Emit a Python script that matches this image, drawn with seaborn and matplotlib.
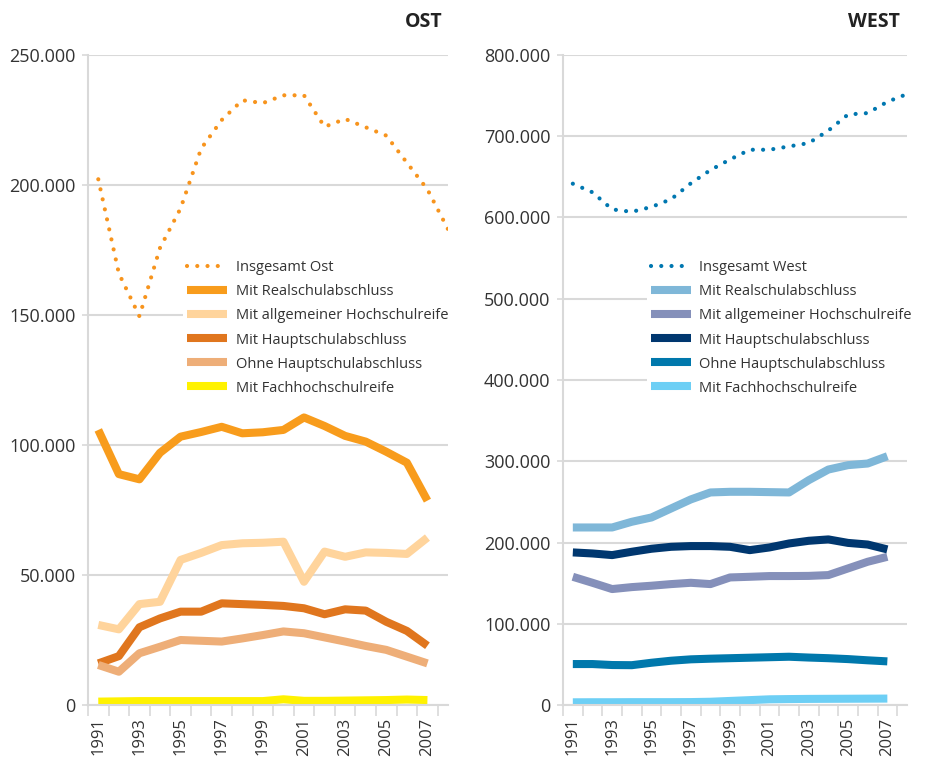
import numpy as np
import pandas as pd
import matplotlib
matplotlib.use("Agg")
import matplotlib.pyplot as plt
import seaborn as sns

# ------------------------------------------------------------------
# Daten (Werte in Tausend)
# ------------------------------------------------------------------
years = list(range(1991, 2008))
years_total = list(range(1991, 2009))

reihen = [
    "Mit Realschulabschluss",
    "Mit allgemeiner Hochschulreife",
    "Mit Hauptschulabschluss",
    "Ohne Hauptschulabschluss",
    "Mit Fachhochschulreife",
]

# OST
ost_total = [202.2, 166.0, 149.5, 175.8, 191.0, 214.0, 225.0, 232.6, 231.5,
             234.5, 234.5, 222.4, 225.4, 222.2, 219.0, 208.6, 198.3, 183.0]
ost_real = [105.8, 88.8, 86.8, 97.0, 103.2, 105.0, 107.0, 104.5, 104.9,
            105.8, 110.6, 107.3, 103.5, 101.3, 97.4, 93.2, 78.6]
ost_hoch = [30.8, 29.1, 38.8, 39.7, 55.8, 58.5, 61.5, 62.2, 62.4,
            62.8, 47.4, 59.0, 57.0, 58.7, 58.5, 58.1, 64.4]
ost_haupt = [16.0, 18.8, 29.9, 33.3, 35.9, 35.9, 39.1, 38.8, 38.5,
             38.1, 37.2, 34.9, 36.8, 36.3, 32.0, 28.5, 22.8]
ost_ohne = [15.4, 12.8, 19.9, 22.4, 25.0, 24.7, 24.4, 25.6, 26.9,
            28.3, 27.6, 26.0, 24.4, 22.7, 21.2, 18.6, 16.0]
ost_fach = [1.3, 1.4, 1.5, 1.5, 1.5, 1.5, 1.5, 1.5, 1.5,
            2.2, 1.6, 1.6, 1.7, 1.8, 1.9, 2.1, 1.9]

# WEST
west_total = [641.6, 631.0, 610.0, 607.0, 613.0, 622.5, 642.0, 658.4, 671.5,
              683.4, 683.4, 687.5, 691.6, 707.0, 726.8, 728.5, 742.4, 751.9]
west_real = [218.5, 218.5, 218.5, 225.5, 230.8, 241.9, 253.0, 261.6, 262.4,
             262.4, 262.0, 261.6, 276.7, 289.8, 295.2, 297.2, 306.2]
west_hoch = [157.8, 150.4, 142.7, 145.1, 146.8, 148.8, 150.4, 148.8, 157.0,
             157.8, 158.7, 158.7, 158.9, 159.9, 168.1, 176.3, 182.4]
west_haupt = [187.8, 186.5, 184.5, 188.6, 192.3, 194.7, 195.6, 195.6, 194.7,
              190.6, 193.9, 198.8, 202.1, 203.8, 199.5, 197.5, 191.5]
west_ohne = [50.4, 50.4, 49.2, 49.0, 52.0, 54.5, 56.2, 57.0, 57.6,
             58.2, 58.8, 59.4, 58.4, 57.6, 56.5, 55.0, 53.7]
west_fach = [3.3, 3.4, 3.4, 3.5, 3.5, 3.5, 3.6, 4.0, 5.0,
             6.0, 7.0, 7.3, 7.5, 7.6, 7.7, 7.8, 7.9]

ost_farben = ["#F89C1C", "#FFD49C", "#E0761E", "#EEAE78", "#FFF200"]
west_farben = ["#7FB7D8", "#8590BA", "#00376F", "#0078AC", "#6DCFF5"]
ost_total_farbe = "#F7941D"
west_total_farbe = "#0077B0"

# ------------------------------------------------------------------
# Style
# ------------------------------------------------------------------
sns.set_theme(style="white")
plt.rcParams["font.family"] = ["Open Sans", "DejaVu Sans"]
text_farbe = "#333333"
grid_farbe = "#D9D9D9"

fig = plt.figure(figsize=(9.28, 7.58), dpi=100)
ax_ost = fig.add_axes([88 / 928, 53 / 758, 360 / 928, 650 / 758])
ax_west = fig.add_axes([563 / 928, 53 / 758, 344 / 928, 650 / 758])


def long_df(serien):
    frames = []
    for name, werte in zip(reihen, serien):
        frames.append(pd.DataFrame({"Jahr": years, "Wert": np.array(werte) * 1000, "Reihe": name}))
    return pd.concat(frames, ignore_index=True)


def panel(ax, serien, farben, total, total_farbe, total_name, ymax, titel, titel_x, leg_px):
    df = long_df(serien)
    df_total = pd.DataFrame({"Jahr": years_total, "Wert": np.array(total) * 1000})

    # Gesamtlinie gepunktet, Teilgruppen als dicke Linien
    sns.lineplot(data=df_total, x="Jahr", y="Wert", ax=ax, color=total_farbe,
                 linewidth=3.0, linestyle=(0, (0.01, 2.45)), dash_capstyle="round",
                 label=total_name, legend=False)
    sns.lineplot(data=df, x="Jahr", y="Wert", hue="Reihe", hue_order=reihen,
                 palette=farben, ax=ax, linewidth=5.8, legend=False,
                 solid_capstyle="butt")

    ax.set_xlim(1990.5, 2008.0)
    ax.set_ylim(0, ymax)
    ax.set_xlabel("")
    ax.set_ylabel("")

    # Kategorie-Achse: Striche zwischen den Jahren, Beschriftung jedes zweite Jahr
    ax.set_xticks(np.arange(1990.5, 2008.0, 1.0))
    ax.set_xticklabels([])
    ax.set_xticks(years[::2], minor=True)
    ax.set_xticklabels([str(y) for y in years[::2]], minor=True, rotation=90)
    ax.tick_params(axis="x", which="major", length=8, width=1.2, color=grid_farbe, bottom=True)
    ax.tick_params(axis="x", which="minor", length=0, pad=9, labelsize=12, labelcolor=text_farbe)
    ax.tick_params(axis="y", length=4, width=1.2, color=grid_farbe, left=True,
                   labelsize=13, labelcolor=text_farbe, pad=5)
    ax.yaxis.set_major_formatter(plt.FuncFormatter(lambda v, p: f"{int(v):,}".replace(",", ".")))

    ax.yaxis.grid(True, color=grid_farbe, linewidth=1.5)
    ax.xaxis.grid(False)
    ax.set_axisbelow(True)
    for s in ["top", "right"]:
        ax.spines[s].set_visible(False)
    for s in ["left", "bottom"]:
        ax.spines[s].set_color(grid_farbe)
        ax.spines[s].set_linewidth(1.5)

    handles = ax.get_lines()[:1 + len(reihen)]
    labels = [total_name] + reihen
    leg = ax.legend(handles, labels, loc="upper left",
                    bbox_to_anchor=(leg_px / 928, 1 - 256 / 758),
                    bbox_transform=fig.transFigure,
                    frameon=True, facecolor="white", edgecolor="none", framealpha=1,
                    fancybox=False, fontsize=10.5, handlelength=2.7, handletextpad=0.6,
                    labelspacing=0.62, borderpad=0.3, borderaxespad=0)
    for t in leg.get_texts():
        t.set_color(text_farbe)

    fig.text(titel_x / 928, 1 - 22 / 758, titel, ha="right", va="center",
             fontsize=14, fontweight="bold", color="#222222")


panel(ax_ost, [ost_real, ost_hoch, ost_haupt, ost_ohne, ost_fach], ost_farben,
      ost_total, ost_total_farbe, "Insgesamt Ost", 250000, "OST", 443, 183)
panel(ax_west, [west_real, west_hoch, west_haupt, west_ohne, west_fach], west_farben,
      west_total, west_total_farbe, "Insgesamt West", 800000, "WEST", 900, 647)

fig.savefig("out.png", dpi=100)
